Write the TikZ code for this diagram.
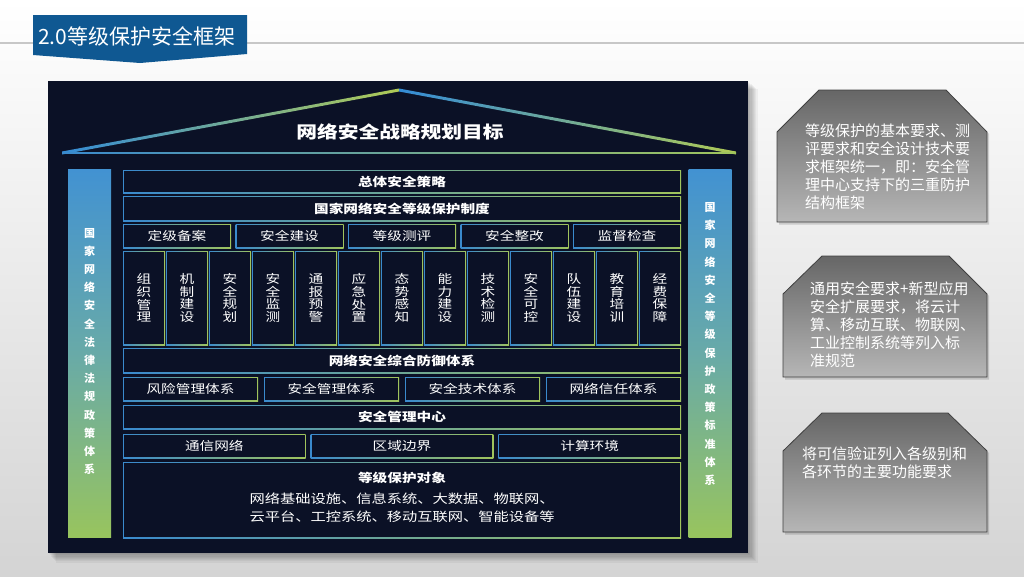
\documentclass[tikz,border=0pt]{standalone}
\usepackage{fontspec}
\setmainfont{Noto Sans CJK SC}
\usepackage{graphicx}
\usetikzlibrary{calc}
\definecolor{panel}{RGB}{11,17,38}
\definecolor{bblue}{RGB}{58,138,205}
\definecolor{bgreen}{RGB}{160,196,92}
\definecolor{ptop}{RGB}{66,146,210}
\definecolor{pmid}{RGB}{104,170,168}
\definecolor{pbot}{RGB}{152,196,94}
\definecolor{rblue}{RGB}{52,140,215}
\definecolor{rgreen}{RGB}{175,202,85}
\definecolor{banner}{RGB}{15,88,146}
\definecolor{gtop}{RGB}{102,102,102}
\definecolor{gbot}{RGB}{182,182,182}
\definecolor{bglow}{RGB}{212,212,212}
\newcommand\sx[1]{\scalebox{1.22}[1]{#1}}
\begin{document}
\begin{tikzpicture}[x=1pt,y=-1pt,
  gbox/.style={shade, left color=bblue, right color=bgreen, inner sep=0pt, text=white,
    path picture={\fill[panel] ([xshift=1pt,yshift=-1pt]path picture bounding box.north west) rectangle ([xshift=-1pt,yshift=1pt]path picture bounding box.south east);}},
  bt/.style={font=\bfseries\fontsize{12}{12}\selectfont},
  lt/.style={font=\fontsize{12}{12}\selectfont},
  coltxt/.style={font=\fontsize{12}{12.7}\selectfont, align=center},
  pillar/.style={shade, top color=ptop, bottom color=pbot, middle color=pmid, inner sep=0pt, minimum width=43pt, minimum height=368pt},
  ptxt/.style={font=\bfseries\fontsize{11}{18.2}\selectfont, text=white, align=center, inner sep=0pt},
  gray box/.style={top color=gtop, bottom color=gbot, draw=black!75, line width=0.8pt},
  gtxt/.style={font=\fontsize{15}{17.8}\selectfont, text=white, align=left, anchor=north west, inner sep=0pt}
]
\useasboundingbox (0,0) rectangle (1024,576);
% slide background
\shade[top color=white, bottom color=bglow] (0,0) rectangle (1024,576);
\draw[line width=1.5pt, black!22] (0,43) -- (1024,43);
% banner
\fill[banner] (33,15) -- (247,15) -- (247,54) -- (140,63) -- (33,55) -- cycle;
\node[font=\fontsize{21}{21}\selectfont, text=white, anchor=west, inner sep=0pt] (title) at (38,36) {2.0等级保护安全框架};

% panel shadow
\foreach \i in {1,...,8} {
  \fill[black, opacity=0.045] (48+\i,81+\i) rectangle (748+\i*1.2,553+\i*1.2);
}
\fill[panel] (48,81) rectangle (748,553);

% roof
\shade[left color=rblue, right color=rgreen] (62,151.5) -- (399,88.5) -- (399,91.5) -- (62,154.5) -- cycle;
\shade[left color=rblue, right color=rgreen] (399,88.5) -- (736,151.5) -- (736,154.5) -- (399,91.5) -- cycle;
\shade[left color=bblue, right color=bgreen] (62,152.3) rectangle (736,153.7);
\node[font=\bfseries\fontsize{17}{17}\selectfont, text=white] (goal) at (400,132) {\sx{网络安全战略规划目标}};

% pillars
\node[pillar] (lp) at (89.5,353) {};
\node[ptxt] (lpt) at (89.5,351.5) {国\\家\\网\\络\\安\\全\\法\\律\\法\\规\\政\\策\\体\\系};
\node[pillar] (rp) at (710,353) {};
\node[ptxt] (rpt) at (710,344) {国\\家\\网\\络\\安\\全\\等\\级\\保\\护\\政\\策\\标\\准\\体\\系};

% rows
\node[gbox, bt, minimum width=558pt, minimum height=23pt] (zt) at (402,181.5) {\sx{总体安全策略}};
\node[gbox, bt, minimum width=558pt, minimum height=25pt] (zd) at (402,208.5) {\sx{国家网络安全等级保护制度}};
\foreach \n/\t [count=\i from 0] in {b1/定级备案, b2/安全建设, b3/等级测评, b4/安全整改, b5/监督检查}
  \node[gbox, lt, minimum width=108pt, minimum height=24pt] (\n) at ({177+\i*112.5},236) {\sx{\t}};
\foreach \n/\a/\b/\c/\d [count=\i from 0] in {k1/组/织/管/理, k2/机/制/建/设, k3/安/全/规/划, k4/安/全/监/测, k5/通/报/预/警, k6/应/急/处/置, k7/态/势/感/知, k8/能/力/建/设, k9/技/术/检/测, k10/安/全/可/控, k11/队/伍/建/设, k12/教/育/培/训, k13/经/费/保/障}
  \node[gbox, coltxt, minimum width=42pt, minimum height=94pt] (\n) at ({144+\i*43},298) {\sx{\a}\\\sx{\b}\\\sx{\c}\\\sx{\d}};
\node[gbox, bt, minimum width=558pt, minimum height=25pt] (fy) at (402,360.5) {\sx{网络安全综合防御体系}};
\foreach \n/\t [count=\i from 0] in {s1/风险管理体系, s2/安全管理体系, s3/安全技术体系, s4/网络信任体系}
  \node[gbox, lt, minimum width=135pt, minimum height=24pt] (\n) at ({190.5+\i*141},389) {\sx{\t}};
\node[gbox, bt, minimum width=558pt, minimum height=24pt] (zx) at (402,417) {\sx{安全管理中心}};
\foreach \n/\t [count=\i from 0] in {e1/通信网络, e2/区域边界, e3/计算环境}
  \node[gbox, lt, minimum width=182.6pt, minimum height=24pt] (\n) at ({214.3+\i*187.7},446) {\sx{\t}};
\node[gbox, minimum width=558pt, minimum height=76pt] (dx) at (402,500) {};
\node[bt, text=white, inner sep=0pt] (dxt) at (402,478) {\sx{等级保护对象}};
\node[font=\fontsize{12.5}{18}\selectfont, text=white, align=center, inner sep=0pt] (dxl) at (402,508) {\sx{网络基础设施、信息系统、大数据、物联网、}\\\sx{云平台、工控系统、移动互联网、智能设备等}};

% right gray boxes
\fill[black, opacity=0.15] (779,134) -- (821,92) -- (948,92) -- (989,134) -- (989,224.5) -- (779,224.5) -- cycle;
\shade[gray box] (777,132) -- (819,90) -- (946,90) -- (987,132) -- (987,222) -- (777,222) -- cycle;
\node[gtxt] (g1) at (805,124) {等级保护的基本要求、测\\评要求和安全设计技术要\\求框架统一，即：安全管\\理中心支持下的三重防护\\结构框架};

\fill[black, opacity=0.15] (785,296) -- (824,258) -- (951,258) -- (989,296) -- (989,379.5) -- (785,379.5) -- cycle;
\shade[gray box] (783,294) -- (822,256) -- (949,256) -- (987,294) -- (987,377) -- (783,377) -- cycle;
\node[gtxt] (g2) at (810,282) {通用安全要求+新型应用\\安全扩展要求，将云计\\算、移动互联、物联网、\\工业控制系统等列入标\\准规范};

\fill[black, opacity=0.15] (785,453) -- (824,415) -- (950,415) -- (989,453) -- (989,534.5) -- (785,534.5) -- cycle;
\shade[gray box] (783,451) -- (822,413) -- (948,413) -- (987,451) -- (987,532) -- (783,532) -- cycle;
\node[gtxt] (g3) at (802,447) {将可信验证列入各级别和\\各环节的主要功能要求};
\end{tikzpicture}
\end{document}
